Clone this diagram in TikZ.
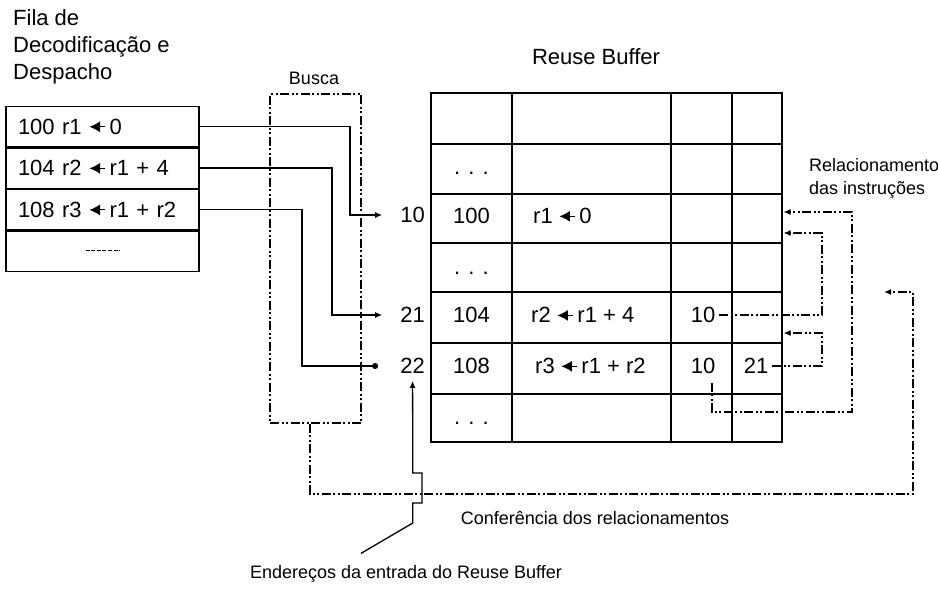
\documentclass[tikz,border=0pt]{standalone}
\usepackage{fontspec}
\setmainfont{Liberation Sans}
\usetikzlibrary{arrows.meta,positioning}
\newcommand{\recebe}{\tikz[baseline=-0.33em]\draw[line width=1.1pt,{Latex[length=0.48em,width=0.5em]}-] (0pt,0pt) -- (0.72em,0pt);}
\newcommand{\reticencia}{\tikz[baseline=-0.1em]\draw[line width=0.9pt,dash pattern=on 4pt off 1.6pt] (0pt,0pt) -- (34pt,0pt);}
\tikzset{
  titulo/.style={font=\fontsize{22}{27}\selectfont, inner sep=0pt},
  fila/.style={draw, line width=1.3pt, minimum height=40.25pt, text width=169pt,
    inner xsep=12pt, align=left, font=\fontsize{22}{26}\selectfont},
  texto/.style={font=\fontsize{22}{26}\selectfont, inner sep=1pt},
  rotulo/.style={font=\fontsize{18}{23}\selectfont, inner sep=0pt},
  grade/.style={line width=1.6pt},
  tracos/.style={line width=1.3pt, dash pattern=on 9pt off 2.5pt on 2pt off 2.5pt on 2pt off 2.5pt},
  busca/.style={draw, tracos, minimum width=91pt, minimum height=329pt, inner sep=0pt},
  seta/.style={line width=1.3pt, -{Latex[length=7pt,width=6pt]}},
  bola/.style={line width=1.3pt, -{Circle[length=6pt]}},
  tracejado/.style={tracos, -{Latex[length=7pt,width=6pt]}},
}
\begin{document}
\begin{tikzpicture}[x=10pt,y=-10pt]
  \useasboundingbox (0,0) rectangle (93.8,58.9);
  % Titulos
  \node[titulo, anchor=north west, align=left] (filatit) at (1.3,0.9) {Fila de\\Decodificação e\\Despacho};
  \node[titulo] (rbtit) at (59.6,5.7) {Reuse Buffer};
  % Fila de decodificacao
  \node[fila] (q1) at (10.25,12.65) {100 r1 \recebe\,0};
  \node[fila, below=0pt of q1] (q2) {104 r2 \recebe\,r1 + 4};
  \node[fila, below=0pt of q2] (q3) {108 r3 \recebe\,r1 + r2};
  \node[fila, below=0pt of q3, align=center] (q4) {\reticencia};
  % Busca
  \node[busca] (busca) at (31.55,25.85) {};
  \node[rotulo] (buscatit) at (31.4,7.8) {Busca};
  % Reuse Buffer
  \draw[grade] (43.1,9.3) rectangle (78.2,44.2);
  \foreach \y in {14.4,19.4,24.3,29.2,34.3,39.4}
    \draw[grade] (43.1,\y) -- (78.2,\y);
  \foreach \x in {51.2,67.1,73.2}
    \draw[grade] (\x,9.3) -- (\x,44.2);
  \node[texto] (pt1) at (47.15,17.3) {. . .};
  \node[texto] (pc10) at (47.15,21.6) {100};
  \node[texto, anchor=west] (in10) at (53.2,21.6) {r1 \recebe\,0};
  \node[texto] (pt2) at (47.15,27.3) {. . .};
  \node[texto] (pc21) at (47.15,31.5) {104};
  \node[texto, anchor=west] (in21) at (53.0,31.5) {r2 \recebe\,r1 + 4};
  \node[texto] (d10a) at (70.3,31.5) {10};
  \node[texto] (pc22) at (47.15,36.6) {108};
  \node[texto, anchor=west] (in22) at (53.4,36.6) {r3 \recebe\,r1 + r2};
  \node[texto] (d10b) at (70.3,36.6) {10};
  \node[texto] (d21) at (75.6,36.6) {21};
  \node[texto] (pt3) at (47.15,42.3) {. . .};
  % Enderecos das entradas
  \node[texto, anchor=east] (e10) at (42.6,21.5) {10};
  \node[texto, anchor=east] (e21) at (42.6,31.5) {21};
  \node[texto, anchor=east] (e22) at (42.6,36.6) {22};
  \draw[seta] (q1.east) -| (35.0,21.5) -- ([xshift=-17pt]e10.west);
  \draw[seta] (q2.east) -| (33.2,31.5) -- ([xshift=-17pt]e21.west);
  \draw[bola] (q3.east) -| (30.2,36.6) -- ([xshift=-21pt]e22.west);
  % Relacionamento das instrucoes
  \node[rotulo, anchor=west, align=left] (reltit) at (80.9,17.85) {Relacionamento\\das instruções};
  \coordinate (r1) at (78.35,21.2);
  \coordinate (r2) at (78.35,23.3);
  \coordinate (r3) at (78.35,33.3);
  \coordinate (r4) at (88.4,29.2);
  \draw[tracejado] ([xshift=9pt,yshift=-8pt]d10b.south) |- (85.2,41.2) |- (r1);
  \draw[tracejado] ([xshift=3pt]d10a.east) -| (82.2,23.3) -- (r2);
  \draw[tracejado] ([xshift=3pt]d21.east) -| (82.2,33.3) -- (r3);
  % Conferencia
  \draw[tracejado] ([xshift=-5.5pt]busca.south) |- (91.3,49.4) |- (r4);
  \node[rotulo] (conf) at (59.5,51.8) {Conferência dos relacionamentos};
  \node[rotulo] (ender) at (40.6,57.4) {Endereços da entrada do Reuse Buffer};
  \draw[seta] ([xshift=-45pt,yshift=12pt]ender.north) -- (41.28,52.3) -- (41.28,50.3)
    -- (42.2,50.3) -- (42.2,47.3) -- (41.28,47.3) -- ([yshift=-6pt]e22.south);
\end{tikzpicture}
\end{document}
